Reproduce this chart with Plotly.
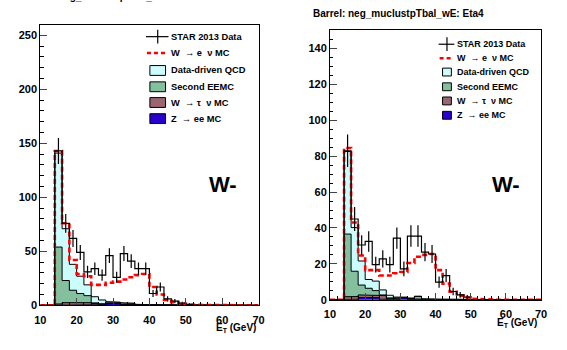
import plotly.graph_objects as go

W, H = 567, 350

# ---------------- data (2 GeV bins, 10-70 GeV) ----------------
bin_edges = [10, 12, 14, 16, 18, 20, 22, 24, 26, 28, 30, 32, 34, 36, 38, 40,
             42, 44, 46, 48, 50, 52, 54, 56, 58, 60, 62, 64, 66, 68, 70]

# Left panel (Eta3)
data_L = [0, 0, 143, 76, 62, 49, 31, 34, 28, 46, 26, 48, 41, 34, 34, 11, 17, 6, 4, 2, 1,
          0, 0, 0, 0, 0, 0, 0, 0, 0]
err_L = [0, 0, 12, 8.7, 7.9, 7, 5.6, 5.8, 5.3, 6.8, 5.1, 6.9, 6.4, 5.8, 5.8, 3.3, 4.1, 2.4, 2, 1.4, 1,
         0, 0, 0, 0, 0, 0, 0, 0, 0]
wenu_L = [0, 0, 143, 76, 42, 29, 27, 19, 19, 21, 22, 24, 26, 28, 29, 17, 10, 5, 3, 1.5, 0.5,
          0.3, 0.2, 0, 0, 0, 0, 0, 0, 0]
zee_L = [0, 0, 0.3, 0.5, 0.5, 0.5, 0.5, 0.3, 0.5, 1.5, 1.5, 0.5, 0.3, 0.2, 0.2, 0.1,
         0, 0, 0, 0, 0, 0, 0, 0, 0, 0, 0, 0, 0, 0]
wtau_L = [0, 0, 1.0, 2.0, 2.0, 2.0, 2.0, 1.5, 0.5, 0.5, 0.5, 0.3, 0.3, 0.2, 0.2, 0.1,
          0, 0, 0, 0, 0, 0, 0, 0, 0, 0, 0, 0, 0, 0]
eemc_L = [0, 0, 52.7, 20.5, 11.5, 8.5, 6.5, 0.5, 0.5, 0.3, 0.5, 0.5, 1.0, 0.3, 0.2, 0.1,
          0, 0, 0, 0, 0, 0, 0, 0, 0, 0, 0, 0, 0, 0]
qcd_L = [0, 0, 87, 48, 24, 16, 10, 5.7, 3.5, 1.2, 0.5, 1.2, 0.4, 0.3, 0.4, 0.2, 0.3, 0.2,
         0, 0, 0, 0, 0, 0, 0, 0, 0, 0, 0, 0]

# Right panel (Eta4)
data_R = [0, 0, 83, 45, 30.5, 32.5, 19.6, 22.8, 19.6, 34.3, 17.2, 35.5, 35.5, 26.5, 25.5, 9.8,
          13.5, 4.6, 2.7, 1.5, 0, 0, 0, 0, 0, 0, 0, 0, 0, 0]
err_R = [0, 0, 9.1, 6.7, 5.5, 5.7, 4.4, 4.8, 4.4, 5.9, 4.1, 6.0, 6.0, 5.1, 5.0, 3.1,
         3.7, 2.1, 1.6, 1.2, 0, 0, 0, 0, 0, 0, 0, 0, 0, 0]
wenu_R = [0, 0, 84.5, 43, 24.7, 16.5, 16.5, 13.5, 13.5, 14.8, 15.5, 20.5, 24, 25, 25.5, 16.5,
          9, 4.5, 2.3, 1.3, 0.5, 0.3, 0.2, 0, 0, 0, 0, 0, 0, 0]
zee_R = [0, 0, 0.2, 0.3, 1.2, 1.2, 1.2, 0.3, 0.2, 0.2, 1.0, 0.2, 0, 0, 0, 0,
         0, 0, 0, 0, 0, 0, 0, 0, 0, 0, 0, 0, 0, 0]
wtau_R = [0, 0, 1.5, 1.5, 1.5, 1.5, 1.5, 2.0, 0.5, 0.3, 0.2, 0.2, 0.2, 0.1, 0, 0,
          0, 0, 0, 0, 0, 0, 0, 0, 0, 0, 0, 0, 0, 0]
eemc_R = [0, 0, 34.9, 14.1, 5.5, 3.7, 2.4, 0.4, 0.3, 0.5, 0, 0.3, 1.6, 0.2, 0, 0,
          0, 0, 0, 0, 0, 0, 0, 0, 0, 0, 0, 0, 0, 0]
qcd_R = [0, 0, 46, 24.3, 13.4, 4.9, 5.3, 2.8, 1.5, 0.5, 0.3, 0.3, 0.2, 0.2, 0.3, 0.1,
         0, 0, 0, 0, 0, 0, 0, 0, 0, 0, 0, 0, 0, 0]

titles = ["Barrel: neg_muclustpTbal_wE: Eta3", "Barrel: neg_muclustpTbal_wE: Eta4"]
legend_labels = ["STAR 2013 Data", "W  \u2192 e  \u03bd MC", "Data-driven QCD",
                 "Second EEMC", "W  \u2192 \u03c4  \u03bd MC", "Z  \u2192 ee MC"]

C_QCD = "#ccfcfc"
C_EEMC = "#84c09e"
C_TAU = "#9a6670"
C_Z = "#2a00cc"
C_RED = "#ff0000"
FONT = "Liberation Sans"

centers = [(a + b) / 2 for a, b in zip(bin_edges[:-1], bin_edges[1:])]


def px(x):
    return x / W


def py(y):
    return 1 - y / H


def step_xy(vals):
    """Explicit histogram step outline (x,y) from bin edges and contents."""
    xs, ys = [], []
    for lo, hi, v in zip(bin_edges[:-1], bin_edges[1:], vals):
        xs += [lo, hi]
        ys += [v, v]
    return xs, ys


fig = go.Figure()

panels = [
    dict(xa="x", ya="y", data=data_L, err=err_L, wenu=wenu_L, z=zee_L, tau=wtau_L,
         eemc=eemc_L, qcd=qcd_L),
    dict(xa="x2", ya="y2", data=data_R, err=err_R, wenu=wenu_R, z=zee_R, tau=wtau_R,
         eemc=eemc_R, qcd=qcd_R),
]

for p in panels:
    # cumulative stack (ROOT THStack style): Z, tau, EEMC, QCD from bottom to top
    c1 = list(p["z"])
    c2 = [a + b for a, b in zip(c1, p["tau"])]
    c3 = [a + b for a, b in zip(c2, p["eemc"])]
    c4 = [a + b for a, b in zip(c3, p["qcd"])]
    for cum, col in [(c4, C_QCD), (c3, C_EEMC), (c2, C_TAU), (c1, C_Z)]:
        sx, sy = step_xy(cum)
        fig.add_trace(go.Scatter(x=sx, y=sy, mode="lines",
                                 fill="tozeroy", fillcolor=col, line=dict(color="black", width=1),
                                 xaxis=p["xa"], yaxis=p["ya"], showlegend=False, hoverinfo="skip"))
    # W->e nu MC (stacked on top), dashed step
    sx, sy = step_xy(p["wenu"])
    fig.add_trace(go.Scatter(x=sx, y=sy, mode="lines",
                             line=dict(color=C_RED, width=2.6, dash="5px,3px"),
                             xaxis=p["xa"], yaxis=p["ya"], showlegend=False, hoverinfo="skip"))
    # data step
    sx, sy = step_xy(p["data"])
    fig.add_trace(go.Scatter(x=sx, y=sy, mode="lines",
                             line=dict(color="black", width=1.2),
                             xaxis=p["xa"], yaxis=p["ya"], showlegend=False, hoverinfo="skip"))
    # data error bars
    xs = [c for c, d in zip(centers, p["data"]) if d > 0]
    ys = [d for d in p["data"] if d > 0]
    es = [e for e, d in zip(p["err"], p["data"]) if d > 0]
    fig.add_trace(go.Scatter(x=xs, y=ys, mode="markers", marker=dict(size=1, color="black"),
                             error_y=dict(type="data", array=es, visible=True, width=0, thickness=1.2, color="black"),
                             xaxis=p["xa"], yaxis=p["ya"], showlegend=False, hoverinfo="skip"))

# frame geometry in pixels
L = dict(x0=35, x1=258, y0=25, y1=310.7)
R = dict(x0=331, x1=546.7, y0=31, y1=305)

axis_common = dict(showline=True, linecolor="black", linewidth=1, mirror=True, ticks="inside",
                   showgrid=False, zeroline=False, layer="above traces",
                   tickfont=dict(family=FONT, size=11, color="black", weight="bold"))
xminor = dict(ticks="inside", dtick=2, ticklen=3.5, tickcolor="black")

fig.update_layout(
    width=W, height=H, autosize=False, margin=dict(l=0, r=0, t=0, b=0),
    paper_bgcolor="white", plot_bgcolor="white", showlegend=False,
    xaxis=dict(domain=[px(L["x0"]), px(L["x1"])], range=[10, 70], dtick=10, tick0=10, ticklen=7,
               ticklabelstandoff=4, minor=xminor, anchor="y", **axis_common),
    yaxis=dict(domain=[py(L["y1"]), py(L["y0"])], range=[0, 260], dtick=50, ticklen=7,
               minor=dict(ticks="inside", dtick=10, ticklen=3.5, tickcolor="black"), anchor="x", **axis_common),
    xaxis2=dict(domain=[px(R["x0"]), px(R["x1"])], range=[10, 70], dtick=10, tick0=10, ticklen=7,
                ticklabelstandoff=4, minor=xminor, anchor="y2", **axis_common),
    yaxis2=dict(domain=[py(R["y1"]), py(R["y0"])], range=[0, 150], dtick=20, ticklen=7,
                minor=dict(ticks="inside", dtick=5, ticklen=3.5, tickcolor="black"), anchor="x2", **axis_common),
)

ann = []
shapes = []


def text(x, y, s, size=10.5, xanchor="left", yanchor="middle"):
    ann.append(dict(x=px(x), y=py(y), xref="paper", yref="paper", text=s, showarrow=False,
                    xanchor=xanchor, yanchor=yanchor,
                    font=dict(family=FONT, size=size, color="black", weight="bold")))


# titles (left one is clipped by the top edge in the reference)
text(15, -4, titles[0], size=10)
text(312, 14, titles[1], size=10)

# axis titles
text(257, 326, "E<sub>T</sub> (GeV)", size=10, xanchor="right", yanchor="top")
text(545, 320, "E<sub>T</sub> (GeV)", size=10, xanchor="right", yanchor="top")

# W- labels
text(222, 188, "W-", size=22, xanchor="center")
text(511, 188, "W-", size=22, xanchor="center")

# legends
legs = [
    dict(sx0=147, sx1=163, tx=167, rows=[37.3, 54, 71.7, 88.3, 104.3, 120.7], bh=10, fs=9.3),
    dict(sx0=446, sx1=455, tx=459, rows=[45, 59.3, 73.3, 88.3, 102.7, 117.3], bh=8, fs=9),
]
fills = [None, None, C_QCD, C_EEMC, C_TAU, C_Z]
for lg in legs:
    for i, (yy, lab) in enumerate(zip(lg["rows"], legend_labels)):
        text(lg["tx"], yy, lab, size=lg["fs"])
        if i == 0:
            cx = (lg["sx0"] + lg["sx1"]) / 2
            shapes.append(dict(type="line", xref="paper", yref="paper", x0=px(lg["sx0"] - 4), x1=px(lg["sx1"] + 3),
                               y0=py(yy), y1=py(yy), line=dict(color="black", width=1.2)))
            shapes.append(dict(type="line", xref="paper", yref="paper", x0=px(cx), x1=px(cx),
                               y0=py(yy - 7), y1=py(yy + 7), line=dict(color="black", width=1.2)))
        elif i == 1:
            shapes.append(dict(type="line", xref="paper", yref="paper", x0=px(lg["sx0"] - 3), x1=px(lg["sx1"] + 1),
                               y0=py(yy), y1=py(yy), line=dict(color=C_RED, width=2.5, dash="4px,3px")))
        else:
            shapes.append(dict(type="rect", xref="paper", yref="paper", x0=px(lg["sx0"]), x1=px(lg["sx1"]),
                               y0=py(yy + lg["bh"] / 2), y1=py(yy - lg["bh"] / 2),
                               fillcolor=fills[i], line=dict(color="black", width=1)))

fig.update_layout(annotations=ann, shapes=shapes)
fig.write_html("out.html")
